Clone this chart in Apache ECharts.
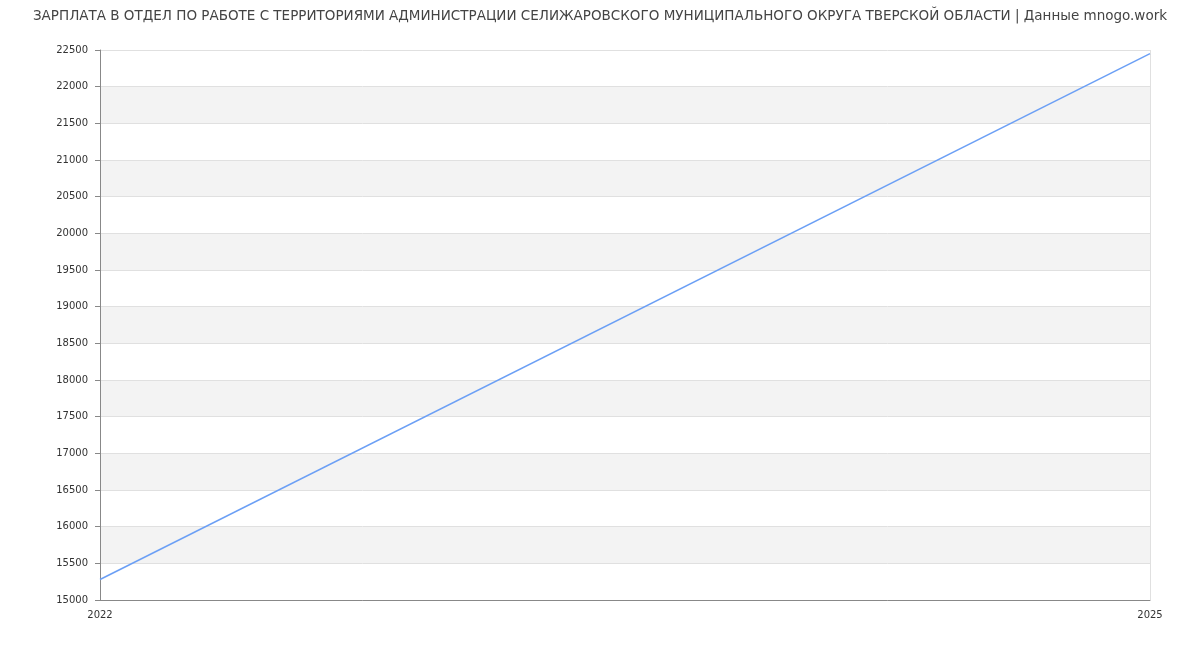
<!DOCTYPE html>
<html>
<head>
<meta charset="utf-8">
<script src="https://cdn.jsdelivr.net/npm/echarts@6/dist/echarts.min.js"></script>
<style>
html,body{margin:0;padding:0;background:#fff;}
#chart{width:1200px;height:650px;}
</style>
</head>
<body>
<div id="chart"></div>
<script>
const titleText = 'ЗАРПЛАТА В ОТДЕЛ ПО РАБОТЕ С ТЕРРИТОРИЯМИ АДМИНИСТРАЦИИ СЕЛИЖАРОВСКОГО МУНИЦИПАЛЬНОГО ОКРУГА ТВЕРСКОЙ ОБЛАСТИ | Данные mnogo.work';
const years = ['2022', '2025'];
const salary = [15280, 22450];

const chart = echarts.init(document.getElementById('chart'));
chart.setOption({
  animation: false,
  title: {
    text: titleText,
    left: 'center',
    top: 4,
    textStyle: { fontFamily: 'DejaVu Sans', fontSize: 13.5, fontWeight: 'normal', color: '#444' }
  },
  grid: { left: 100, right: 50, top: 50, bottom: 50 },
  xAxis: {
    type: 'category',
    data: years,
    boundaryGap: false,
    axisLine: { lineStyle: { color: '#888' } },
    axisTick: { show: false },
    axisLabel: { fontFamily: 'DejaVu Sans', fontSize: 10, color: '#333', margin: 10 },
    splitLine: { show: true, lineStyle: { color: '#e0e0e0' } }
  },
  yAxis: {
    type: 'value',
    min: 15000,
    max: 22500,
    interval: 500,
    axisLine: { show: true, lineStyle: { color: '#888' } },
    axisTick: { show: true, length: 5, lineStyle: { color: '#888' } },
    axisLabel: { fontFamily: 'DejaVu Sans', fontSize: 10, color: '#333', margin: 12, formatter: v => String(v) },
    splitLine: { show: true, lineStyle: { color: '#e0e0e0' } },
    splitArea: { show: true, areaStyle: { color: ['#ffffff', '#f3f3f3'] } }
  },
  series: [{
    type: 'line',
    data: salary,
    showSymbol: false,
    symbol: 'none',
    lineStyle: { color: '#6b9ff5', width: 1.5 }
  }]
});
</script>
</body>
</html>
